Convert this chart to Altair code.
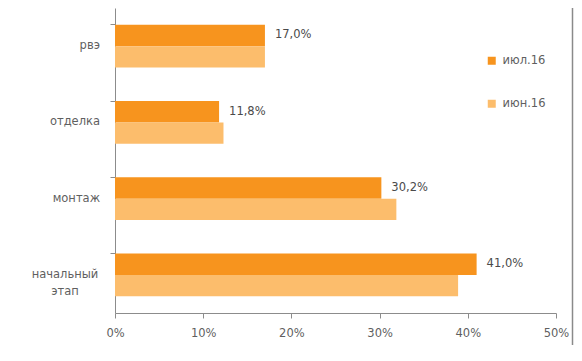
import altair as alt
import pandas as pd

categories = ["рвэ", "отделка", "монтаж", "начальный этап"]
category_lines = [["рвэ"], ["отделка"], ["монтаж"], ["начальный", "этап"]]
series = ["июл.16", "июн.16"]
jul_values = [17.0, 11.8, 30.2, 41.0]
jun_values = [17.0, 12.3, 31.9, 38.9]
colors = ["#F7941E", "#FCBD6C"]

rows = []
for c, v in zip(categories, jul_values):
    rows.append({"cat": c, "series": series[0], "value": v})
for c, v in zip(categories, jun_values):
    rows.append({"cat": c, "series": series[1], "value": v})
df = pd.DataFrame(rows)

cat_df = pd.DataFrame({
    "cat": categories,
    "lines": category_lines,
    "multi": [len(l) > 1 for l in category_lines],
})

FONT = "DejaVu Sans"
FS = 11.5
LABEL_COLOR = "#5f5f5f"

y_enc = alt.Y(
    "cat:N",
    sort=categories,
    title=None,
    scale=alt.Scale(paddingInner=0.44, paddingOuter=0.22),
    axis=alt.Axis(
        bandPosition=0,
        labels=False,
        domainColor="#8c8c8c",
        tickColor="#8c8c8c",
        tickSize=5,
    ),
)

yoff = alt.YOffset("series:N", sort=series, scale=alt.Scale(domain=series, paddingInner=0, paddingOuter=0))

bars = alt.Chart(df).mark_bar().encode(
    x=alt.X(
        "value:Q",
        title=None,
        scale=alt.Scale(domain=[0, 50], nice=False),
        axis=alt.Axis(
            values=[0, 10, 20, 30, 40, 50],
            labelExpr="datum.value + '%'",
            labelFlush=False,
            grid=False,
            labelFont=FONT,
            labelFontSize=FS,
            labelColor=LABEL_COLOR,
            domainColor="#8c8c8c",
            tickColor="#8c8c8c",
            tickSize=5,
            labelPadding=9,
        ),
    ),
    y=y_enc,
    yOffset=yoff,
    color=alt.Color(
        "series:N",
        scale=alt.Scale(domain=series, range=colors),
        sort=series,
        legend=alt.Legend(
            title=None,
            orient="none",
            legendX=371,
            legendY=47,
            symbolType="square",
            symbolSize=64,
            symbolStrokeWidth=0,
            rowPadding=30,
            labelFont=FONT,
            labelFontSize=FS,
            labelColor=LABEL_COLOR,
            labelOffset=5,
        ),
    ),
)

labels = alt.Chart(df).transform_filter(
    alt.datum.series == series[0]
).transform_calculate(
    lbl="replace(format(datum.value, '.1f'), '.', ',') + '%'"
).mark_text(align="left", baseline="middle", dx=10, font=FONT, fontSize=FS, color="#4a4a4a").encode(
    x="value:Q",
    y=alt.Y("cat:N", sort=categories),
    yOffset=yoff,
    text="lbl:N",
)

cat_single = alt.Chart(cat_df).transform_filter("!datum.multi").mark_text(
    align="right", baseline="middle", font=FONT, fontSize=FS, color=LABEL_COLOR
).encode(
    x=alt.value(-15),
    y=alt.Y("cat:N", sort=categories),
    text="lines",
)

cat_multi = alt.Chart(cat_df).transform_filter("datum.multi").mark_text(
    align="center", baseline="middle", font=FONT, fontSize=FS, color=LABEL_COLOR, lineHeight=17
).encode(
    x=alt.value(-50),
    y=alt.Y("cat:N", sort=categories),
    text="lines",
)

border = alt.Chart(pd.DataFrame({"a": [0]})).mark_rule(color="#8a8a8a", strokeWidth=1.5).encode(
    x=alt.value(457.5), y=alt.value(-10), y2=alt.value(360)
)

chart = alt.layer(bars, labels, cat_single, cat_multi, border).properties(
    width=441,
    height=305,
    autosize="none",
    background="white",
    padding={"left": 107, "top": 0, "right": 18, "bottom": 32},
).configure_view(stroke=None)

chart.save("out.html", embed_options={"renderer": "svg", "actions": False})
